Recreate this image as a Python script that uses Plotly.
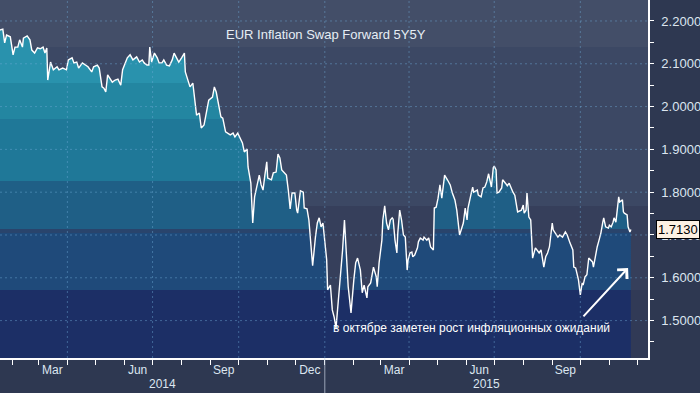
import pandas as pd
import plotly.graph_objects as go

FONT = "Liberation Sans"

# ---------------- data ----------------
START = "2014-01-19"
day_offsets = [
    0, 3, 5, 7, 11, 14, 16, 19, 21, 24,
    25, 29, 32, 34, 37, 40, 43, 46, 48, 50,
    51, 54, 57, 61, 63, 67, 71, 73, 77, 79,
    82, 84, 88, 91, 94, 98, 100, 104, 106, 109,
    111, 113, 115, 120, 123, 126, 129, 131, 136, 139,
    142, 146, 149, 152, 154, 157, 159, 160, 162, 165,
    168, 170, 173, 175, 178, 181, 184, 186, 189, 191,
    194, 197, 198, 200, 203, 206, 208, 210, 213, 215,
    218, 221, 223, 227, 229, 231, 233, 236, 238, 241,
    246, 249, 251, 254, 259, 261, 264, 265, 268, 270,
    272, 275, 277, 279, 281, 283, 285, 286, 290, 292,
    295, 297, 299, 301, 303, 306, 308, 310, 312, 315,
    317, 318, 321, 324, 325, 328, 330, 332, 334, 337,
    339, 341, 343, 345, 346, 349, 350, 353, 355, 357,
    359, 361, 364, 366, 368, 370, 372, 375, 377, 378,
    380, 382, 385, 387, 389, 392, 393, 396, 399, 402,
    403, 405, 408, 409, 411, 413, 415, 417, 419, 420,
    422, 424, 425, 427, 429, 431, 433, 435, 436, 438,
    440, 441, 443, 446, 447, 449, 452, 453, 456, 458,
    460, 463, 464, 466, 468, 470, 472, 473, 475, 478,
    481, 483, 486, 488, 491, 495, 497, 499, 500, 503,
    505, 506, 510, 511, 514, 516, 518, 520, 522, 525,
    527, 528, 530, 531, 533, 536, 537, 540, 542, 544,
    546, 548, 550, 552, 553, 557, 559, 560, 562, 563,
    565, 567, 569, 572, 574, 576, 578, 580, 581, 583,
    585, 587, 590, 591, 594, 596,
    598, 601, 604, 606, 609, 612, 613, 615, 618, 620,
    622, 623, 625, 627, 629, 633, 634, 636, 638, 640,
    642, 644, 645, 647, 650, 651, 653, 655, 656, 658,
    659, 661, 662, 665, 666, 667, 670, 671, 673, 674,
]
values = [
    2.179, 2.181, 2.149, 2.167, 2.163, 2.121, 2.139, 2.139, 2.156, 2.139,
    2.160, 2.165, 2.156, 2.132, 2.125, 2.137, 2.135, 2.139, 2.125, 2.137,
    2.062, 2.104, 2.086, 2.093, 2.086, 2.090, 2.086, 2.109, 2.114, 2.102,
    2.104, 2.090, 2.102, 2.097, 2.093, 2.081, 2.093, 2.097, 2.090, 2.046,
    2.043, 2.034, 2.074, 2.057, 2.062, 2.064, 2.050, 2.086, 2.114, 2.121,
    2.109, 2.116, 2.104, 2.109, 2.102, 2.097, 2.097, 2.139, 2.104, 2.125,
    2.114, 2.102, 2.102, 2.109, 2.097, 2.095, 2.109, 2.125, 2.114, 2.104,
    2.114, 2.125, 2.081, 2.067, 2.046, 2.055, 2.015, 1.980, 1.985, 1.950,
    1.957, 1.992, 2.015, 2.022, 2.046, 2.034, 2.008, 1.976, 1.973, 1.941,
    1.934, 1.938, 1.929, 1.938, 1.915, 1.894, 1.901, 1.859, 1.821, 1.728,
    1.789, 1.821, 1.840, 1.817, 1.805, 1.840, 1.871, 1.833, 1.829, 1.845,
    1.847, 1.889, 1.880, 1.852, 1.847, 1.840, 1.805, 1.761, 1.798, 1.798,
    1.758, 1.751, 1.803, 1.800, 1.763, 1.761, 1.735, 1.681, 1.628, 1.695,
    1.728, 1.740, 1.719, 1.728, 1.705, 1.642, 1.572, 1.583, 1.525, 1.508,
    1.483, 1.532, 1.614, 1.665, 1.735, 1.665, 1.579, 1.518, 1.583, 1.595,
    1.635, 1.646, 1.618, 1.565, 1.583, 1.553, 1.579, 1.588, 1.625, 1.602,
    1.579, 1.635, 1.688, 1.735, 1.768, 1.728, 1.712, 1.735, 1.740, 1.737,
    1.688, 1.658, 1.705, 1.758, 1.735, 1.700, 1.695, 1.618, 1.642, 1.658,
    1.660, 1.649, 1.653, 1.670, 1.684, 1.693, 1.688, 1.695, 1.688, 1.693,
    1.672, 1.665, 1.763, 1.765, 1.786, 1.817, 1.786, 1.805, 1.840, 1.829,
    1.817, 1.800, 1.782, 1.758, 1.700, 1.728, 1.763, 1.735, 1.763, 1.793,
    1.812, 1.800, 1.805, 1.793, 1.789, 1.810, 1.812, 1.824, 1.843, 1.812,
    1.857, 1.861, 1.852, 1.798, 1.800, 1.810, 1.829, 1.821, 1.815, 1.821,
    1.810, 1.800, 1.793, 1.770, 1.754, 1.758, 1.770, 1.751, 1.758, 1.798,
    1.742, 1.735, 1.646, 1.670, 1.665, 1.658, 1.665, 1.642, 1.625, 1.649,
    1.658, 1.672, 1.728, 1.712, 1.700, 1.695,
    1.700, 1.695, 1.707, 1.700, 1.681, 1.665, 1.625, 1.623, 1.595, 1.560,
    1.588, 1.583, 1.602, 1.607, 1.646, 1.637, 1.625, 1.653, 1.672, 1.688,
    1.705, 1.730, 1.740, 1.719, 1.716, 1.723, 1.719, 1.730, 1.740, 1.730,
    1.751, 1.789, 1.777, 1.782, 1.754, 1.751, 1.747, 1.719, 1.707, 1.713,
]
last_value = 1.7130

y_tick_vals = [1.5, 1.6, 1.7, 1.8, 1.9, 2.0, 2.1, 2.2]
y_tick_text = [f"{v:.4f}" for v in y_tick_vals]
month_label_dates = ["2014-03-16", "2014-06-15", "2014-09-15", "2014-12-16",
                     "2015-03-16", "2015-06-15", "2015-09-15"]
month_labels = ["Mar", "Jun", "Sep", "Dec", "Mar", "Jun", "Sep"]
grid_dates = ["2014-04-01", "2014-07-01", "2014-10-01", "2015-01-01",
              "2015-04-01", "2015-07-01", "2015-10-01"]
year_labels = ["2014", "2015"]
year_starts = ["2014-01-01", "2015-01-01"]

title_text = "EUR Inflation Swap Forward 5Y5Y"
note_text = "в октябре заметен рост инфляционных ожиданий"
arrow_head_date = "2015-11-21"
arrow_head_value = 1.623

# ---------------- styling ----------------
x_range = ["2014-01-19", "2015-12-12 07:00"]
y_range = [1.4126, 2.249]
paper_color = "#2e3851"
bg_band_edges = [1.5715, 1.768, 2.139]
bg_band_colors = ["#313a56", "#363f5b", "#3c4864", "#434e68"]
fill_band_edges = [1.572, 1.705, 1.714, 1.826, 1.970, 2.055]
fill_band_colors = ["#1c2f66", "#1f4a7a", "#29446c", "#1f5f86",
                    "#1f7898", "#2386a1", "#2992ad"]
grid_color = "rgba(110,170,215,0.45)"
text_color = "#dce6f0"

dates = pd.to_datetime(START) + pd.to_timedelta(day_offsets, unit="D")

span = y_range[1] - y_range[0]
edges_full = [y_range[0]] + fill_band_edges + [y_range[1]]
colorscale = []
for i, c in enumerate(fill_band_colors):
    colorscale.append([(edges_full[i] - y_range[0]) / span, c])
    colorscale.append([(edges_full[i + 1] - y_range[0]) / span, c])
colorscale[0][0] = 0.0
colorscale[-1][0] = 1.0

fig = go.Figure()
fig.add_trace(go.Scatter(
    x=dates, y=values, mode="lines",
    line=dict(color="white", width=1.4),
    fill="tozeroy",
    fillgradient=dict(type="vertical", colorscale=colorscale,
                      start=y_range[0], stop=y_range[1]),
    hoverinfo="skip", showlegend=False,
))

# triangle tick markers on the right axis
fig.add_trace(go.Scatter(
    x=[1.0055] * len(y_tick_vals), y=y_tick_vals, xaxis="x2", yaxis="y",
    mode="markers", marker=dict(symbol="triangle-right", size=7, color="white"),
    cliponaxis=False, hoverinfo="skip", showlegend=False,
))
# pointer of last value label
fig.add_trace(go.Scatter(
    x=[1.0085], y=[last_value], xaxis="x2", yaxis="y",
    mode="markers", marker=dict(symbol="triangle-left", size=11, color="#fdf1e2",
                                line=dict(color="black", width=1)),
    cliponaxis=False, hoverinfo="skip", showlegend=False,
))

shapes = []
edges_bg = [y_range[0]] + bg_band_edges + [y_range[1]]
for i, c in enumerate(bg_band_colors):
    shapes.append(dict(type="rect", xref="paper", yref="y", x0=0, x1=1,
                       y0=edges_bg[i], y1=edges_bg[i + 1], fillcolor=c,
                       line=dict(width=0), layer="below"))
for v in y_tick_vals:
    shapes.append(dict(type="line", xref="paper", yref="y", x0=0, x1=1, y0=v, y1=v,
                       line=dict(color=grid_color, width=1, dash="2px,3px"), layer="above"))
for d in grid_dates:
    shapes.append(dict(type="line", xref="x", yref="paper", x0=d, x1=d, y0=0, y1=1,
                       line=dict(color=grid_color, width=1, dash="2px,3px"), layer="above"))
# year separator
shapes.append(dict(type="line", xref="x", yref="paper", x0=year_starts[1], x1=year_starts[1],
                   y0=0, y1=-0.12, line=dict(color="rgba(200,210,225,0.7)", width=1)))

annotations = [
    dict(text=title_text, xref="paper", yref="paper", x=0.503, y=0.905,
         showarrow=False, font=dict(family=FONT, size=13, color="#e6edf5"),
         xanchor="center", yanchor="middle"),
    dict(text=note_text, xref="paper", yref="paper", x=0.728, y=0.084,
         showarrow=False, font=dict(family=FONT, size=12, color="white"),
         xanchor="center", yanchor="middle"),
    dict(text="", x=arrow_head_date, y=arrow_head_value, xref="x", yref="y",
         showarrow=True, arrowhead=4, arrowsize=1.3, arrowwidth=2,
         arrowcolor="white", ax=-46, ay=50, standoff=0),
    dict(text=f"{last_value:.4f}", xref="paper", yref="y", x=1, y=last_value,
         xanchor="left", yanchor="middle", xshift=8, showarrow=False,
         bgcolor="#fdf1e2", bordercolor="black", borderwidth=1, borderpad=1,
         font=dict(family=FONT, size=13, color="black")),
]
# year labels centred on the visible part of each year
x0 = pd.Timestamp(x_range[0])
x1 = pd.Timestamp(x_range[1])
bounds = [x0] + [pd.Timestamp(year_starts[1])] + [x1]
for i, lab in enumerate(year_labels):
    mid = bounds[i] + (bounds[i + 1] - bounds[i]) / 2
    annotations.append(dict(text=lab, xref="x", yref="paper", x=mid, y=-0.073,
                            showarrow=False, xanchor="center", yanchor="middle",
                            font=dict(family=FONT, size=12, color=text_color)))

fig.update_layout(
    width=700, height=393,
    margin=dict(l=0, r=52, t=0, b=35),
    paper_bgcolor=paper_color, plot_bgcolor=bg_band_colors[0],
    showlegend=False, hovermode=False,
    xaxis=dict(type="date", range=x_range, tickvals=month_label_dates,
               ticktext=month_labels, ticks="", showgrid=False, zeroline=False,
               showline=True, linecolor="white", linewidth=1.5,
               tickfont=dict(family=FONT, size=12, color=text_color),
               minor=dict(dtick="M1", tick0="2014-01-01", ticks="outside",
                          ticklen=5, tickcolor="white", tickwidth=1, showgrid=False),
               fixedrange=True),
    xaxis2=dict(overlaying="x", range=[0, 1], visible=False, anchor="y",
                fixedrange=True),
    yaxis=dict(side="right", range=y_range, tickvals=y_tick_vals,
               ticktext=y_tick_text, ticks="", showgrid=False, zeroline=False,
               showline=True, linecolor="white", linewidth=1.5,
               ticklabelstandoff=9,
               tickfont=dict(family=FONT, size=13, color=text_color),
               minor=dict(dtick=0.05, tick0=1.45, ticks="outside", ticklen=4,
                          tickcolor="white", tickwidth=1, showgrid=False),
               fixedrange=True),
    shapes=shapes,
    annotations=annotations,
)

fig.write_html(
    "out.html",
    config={"displayModeBar": False},
    post_script="document.body.style.margin='0';document.body.style.padding='0';"
                "document.body.style.overflow='hidden';"
                "document.body.style.background='" + paper_color + "';",
)
